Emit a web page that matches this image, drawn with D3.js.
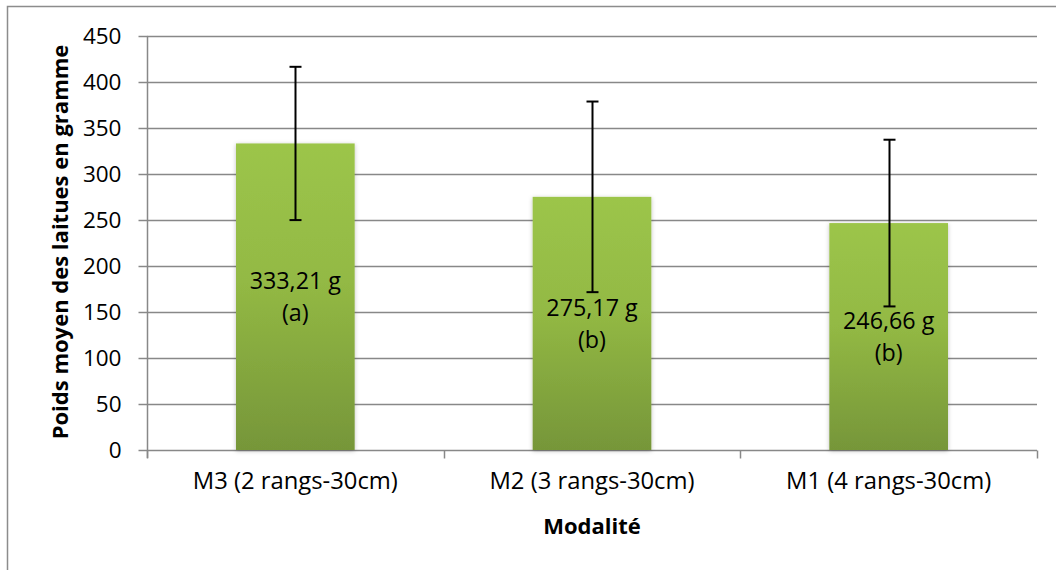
<!DOCTYPE html>
<html>
<head>
<meta charset="utf-8">
<script src="https://cdn.jsdelivr.net/npm/d3@7"></script>
<style>
  html, body { margin: 0; padding: 0; background: #fff; }
  svg { display: block; }
  text { font-family: "Open Sans", "Liberation Sans", sans-serif; fill: #000; }
</style>
</head>
<body>
<script>
// ---- data ----
const categories = ["M3 (2 rangs-30cm)", "M2 (3 rangs-30cm)", "M1 (4 rangs-30cm)"];
const means = [333.21, 275.17, 246.66];
const errors = [83.3, 103.6, 90.6];
const groupLetters = ["(a)", "(b)", "(b)"];
const yTicks = [0, 50, 100, 150, 200, 250, 300, 350, 400, 450];
const xTitle = "Modalité";
const yTitle = "Poids moyen des laitues en gramme";

// ---- layout ----
const W = 1056, H = 570;
const plot = { left: 147, right: 1037, top: 36, bottom: 450 };
const gridColor = "#888888";

const svg = d3.select("body").append("svg").attr("width", W).attr("height", H);
const defs = svg.append("defs");
const grad = defs.append("linearGradient").attr("id", "barGrad")
  .attr("x1", 0).attr("y1", 0).attr("x2", 0).attr("y2", 1);
grad.append("stop").attr("offset", "0%").attr("stop-color", "#9cc54a");
grad.append("stop").attr("offset", "45%").attr("stop-color", "#93b944");
grad.append("stop").attr("offset", "100%").attr("stop-color", "#769639");
const shadow = defs.append("filter").attr("id", "shadow")
  .attr("x", "-10%").attr("y", "-10%").attr("width", "120%").attr("height", "120%");
shadow.append("feDropShadow").attr("dx", 0).attr("dy", 1).attr("stdDeviation", 2)
  .attr("flood-color", "#000").attr("flood-opacity", 0.25);

// outer chart border (only left & top visible)
svg.append("rect").attr("x", 7.5).attr("y", 6.5).attr("width", W + 10).attr("height", H + 10)
  .attr("fill", "none").attr("stroke", "#8c8c8c").attr("stroke-width", 1.5);

const x = d3.scaleBand().domain(categories).range([plot.left, plot.right]).padding(0);
const y = d3.scaleLinear().domain([0, 450]).range([plot.bottom, plot.top]);

// gridlines
svg.append("g").selectAll("line").data(yTicks.filter(d => d > 0)).join("line")
  .attr("x1", plot.left).attr("x2", plot.right)
  .attr("y1", d => Math.round(y(d)) + 0.5).attr("y2", d => Math.round(y(d)) + 0.5)
  .attr("stroke", gridColor).attr("stroke-width", 1.5);

// y axis
const yAxis = svg.append("g").attr("transform", `translate(${plot.left + 0.5},0)`)
  .call(d3.axisLeft(y).tickValues(yTicks).tickSize(9).tickPadding(17).tickFormat(d3.format("d")));
yAxis.select(".domain").attr("stroke", gridColor).attr("stroke-width", 1.5)
  .attr("d", `M0,${plot.top}V${plot.bottom + 8}`);
yAxis.selectAll(".tick line").attr("stroke", gridColor).attr("stroke-width", 1.5);
yAxis.selectAll(".tick text").style("font-size", "22.5px").attr("font-family", "'Open Sans'");

// x axis
const xAxis = svg.append("g").attr("transform", `translate(0,${plot.bottom + 0.5})`)
  .call(d3.axisBottom(x).tickSize(0).tickPadding(22));
xAxis.select(".domain").attr("stroke", gridColor).attr("stroke-width", 1.5)
  .attr("d", `M${plot.left},0H${plot.right}`);
xAxis.selectAll(".tick text").style("font-size", "23.8px").attr("font-family", "'Open Sans'");
const bounds = categories.map(c => x(c)).concat([x(categories[categories.length - 1]) + x.bandwidth()]);
xAxis.append("g").selectAll("line").data(bounds).join("line")
  .attr("x1", d => Math.round(d) + 0.5).attr("x2", d => Math.round(d) + 0.5)
  .attr("y1", 0).attr("y2", 8)
  .attr("stroke", gridColor).attr("stroke-width", 1.5);

// bars
const barW = x.bandwidth() * 0.4;
const rows = categories.map((c, i) => ({ c, m: means[i], e: errors[i], g: groupLetters[i] }));
svg.append("g").selectAll("rect").data(rows).join("rect")
  .attr("x", d => x(d.c) + (x.bandwidth() - barW) / 2)
  .attr("width", barW)
  .attr("y", d => y(d.m))
  .attr("height", d => y(0) - y(d.m))
  .attr("fill", "url(#barGrad)")
  .attr("filter", "url(#shadow)");

// error bars
const eb = svg.append("g").attr("stroke", "#000").attr("stroke-width", 2);
rows.forEach(d => {
  const cx = Math.round(x(d.c) + x.bandwidth() / 2) + 0.5;
  const yt = y(d.m + d.e), yb = y(d.m - d.e);
  eb.append("line").attr("x1", cx).attr("x2", cx).attr("y1", yt).attr("y2", yb);
  eb.append("line").attr("x1", cx - 6).attr("x2", cx + 6).attr("y1", yt).attr("y2", yt);
  eb.append("line").attr("x1", cx - 6).attr("x2", cx + 6).attr("y1", yb).attr("y2", yb);
});

// value labels
const frLocale = d3.formatLocale({ decimal: ",", thousands: " ", grouping: [3], currency: ["", " €"] });
const fmt = frLocale.format(".2f");
const lab = svg.append("g").attr("text-anchor", "middle").style("font-size", "23.3px");
rows.forEach(d => {
  const cx = x(d.c) + x.bandwidth() / 2;
  const cy = (y(d.m) + y(0)) / 2;
  lab.append("text").attr("x", cx).attr("y", cy - 16).attr("dy", "0.35em").text(fmt(d.m) + " g");
  lab.append("text").attr("x", cx).attr("y", cy + 16).attr("dy", "0.35em").text(d.g);
});

// axis titles
svg.append("text").attr("x", (plot.left + plot.right) / 2).attr("y", 526).attr("dy", "0.35em")
  .attr("text-anchor", "middle").style("font-size", "22px").style("font-weight", "bold").text(xTitle);
svg.append("text").attr("transform", `translate(60,${(plot.top + plot.bottom) / 2 - 1}) rotate(-90)`)
  .attr("dy", "0.35em").attr("text-anchor", "middle")
  .style("font-size", "22px").style("font-weight", "bold").text(yTitle);
</script>
</body>
</html>
